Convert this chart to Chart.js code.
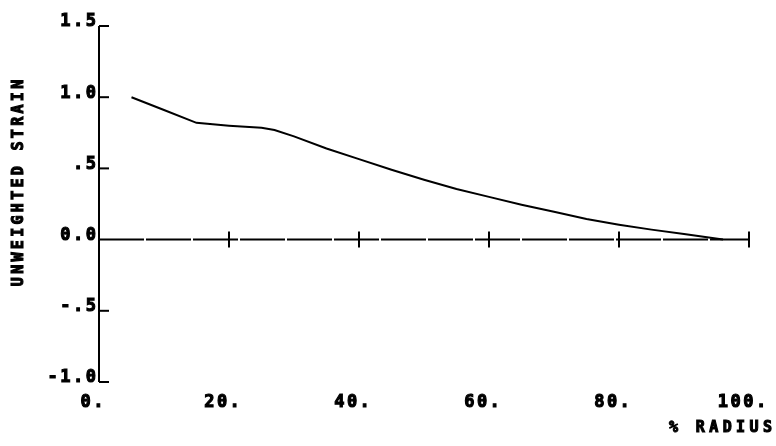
<!DOCTYPE html>
<html>
<head>
<meta charset="utf-8">
<script src="https://cdn.jsdelivr.net/npm/chart.js@4/dist/chart.umd.min.js"></script>
<style>
  body { margin: 0; background: #fff; }
  #wrap { width: 776px; height: 446px; }
</style>
</head>
<body>
<div id="wrap"><canvas id="myChart" width="776" height="446"></canvas></div>
<script>
const radius = [5, 10, 15, 20, 25, 27, 30, 35, 40, 45, 50, 55, 60, 65, 70, 75, 80, 85, 90, 96]
const strain = [1.0, 0.91, 0.82, 0.80, 0.785, 0.77, 0.725, 0.64, 0.565, 0.49, 0.42, 0.355, 0.30, 0.245, 0.195, 0.145, 0.105, 0.07, 0.04, 0.0]

const xTicks = [0, 20, 40, 60, 80, 100]
const xTickLabels = ['0.', '20.', '40.', '60.', '80.', '100.']
const yTicks = [1.5, 1.0, 0.5, 0.0, -0.5, -1.0]
const yTickLabels = ['1.5', '1.0', '.5', '0.0', '-.5', '-1.0']

const xTitle = '% RADIUS'
const yTitle = 'UNWEIGHTED STRAIN'

const ink = '#000'
const font = '"DejaVu Sans Mono", "Liberation Mono", monospace'

// heavy plotter lettering: fill plus a thin stroke
function spacedText(ctx, text, x, y, align, spacing) {
	ctx.letterSpacing = spacing + 'px'
	var w = ctx.measureText(text).width
	if (ctx.letterSpacing === spacing + 'px') w -= spacing
	var left = x
	if (align === 'center') left = x - w / 2
	if (align === 'right') left = x - w
	ctx.textAlign = 'left'
	ctx.fillText(text, left, y)
	ctx.lineWidth = 1.1
	ctx.strokeText(text, left, y)
	ctx.letterSpacing = '0px'
}

// plotter style axes drawn by hand from the scales
const plotterAxes = {
	id: 'plotterAxes',
	afterDatasetsDraw(chart) {
		var ctx = chart.ctx
		var xs = chart.scales.x
		var ys = chart.scales.y
		var x0 = xs.getPixelForValue(0)
		var x1 = xs.getPixelForValue(100)
		var yTop = ys.getPixelForValue(1.5)
		var yBot = ys.getPixelForValue(-1.0)
		var yZero = ys.getPixelForValue(0)

		ctx.save()
		ctx.strokeStyle = ink
		ctx.fillStyle = ink
		ctx.lineWidth = 2

		// y axis
		ctx.beginPath()
		ctx.moveTo(x0, yTop)
		ctx.lineTo(x0, yBot)
		ctx.stroke()
		yTicks.forEach(function(v) {
			if (v === 0) return
			var py = ys.getPixelForValue(v)
			ctx.beginPath()
			ctx.moveTo(x0, py)
			ctx.lineTo(x0 + 10, py)
			ctx.stroke()
		})

		// x axis along zero
		ctx.setLineDash([45, 2])
		ctx.beginPath()
		ctx.moveTo(x0, yZero)
		ctx.lineTo(x1, yZero)
		ctx.stroke()
		ctx.setLineDash([])
		xTicks.forEach(function(v) {
			if (v === 0) return
			var px = xs.getPixelForValue(v)
			ctx.beginPath()
			ctx.moveTo(px, yZero - 8)
			ctx.lineTo(px, yZero + 8)
			ctx.stroke()
		})

		// tick labels
		ctx.font = 'bold 17px ' + font
		ctx.textBaseline = 'middle'
		yTicks.forEach(function(v, i) {
			var py = ys.getPixelForValue(v)
			spacedText(ctx, yTickLabels[i], x0 - 3, py - 4, 'right', 2.5)
		})
		xTicks.forEach(function(v, i) {
			var px = xs.getPixelForValue(v)
			spacedText(ctx, xTickLabels[i], px - 7, 403, 'center', 2.5)
		})

		// titles
		ctx.font = 'bold 15px ' + font
		spacedText(ctx, xTitle, 772, 428, 'right', 4.4)
		ctx.translate(19, 183)
		ctx.rotate(-Math.PI / 2)
		spacedText(ctx, yTitle, 0, 0, 'center', 3.3)
		ctx.restore()
	}
}

var ctx = document.getElementById('myChart')
var points = radius.map(function(r, i) { return { x: r, y: strain[i] } })

var lineChart = new Chart(ctx, {
	type: 'scatter',
	data: {
		datasets: [{
			data: points,
			showLine: true,
			borderColor: ink,
			borderWidth: 2,
			pointRadius: 0,
			tension: 0,
			fill: false,
		}]
	},
	options: {
		responsive: false,
		animation: false,
		devicePixelRatio: 1,
		layout: { padding: { left: 99, right: 27, top: 26, bottom: 64 } },
		plugins: { legend: { display: false }, tooltip: { enabled: false } },
		scales: {
			x: { type: 'linear', min: 0, max: 100, display: false },
			y: { type: 'linear', min: -1.0, max: 1.5, display: false },
		}
	},
	plugins: [plotterAxes]
})
</script>
</body>
</html>
